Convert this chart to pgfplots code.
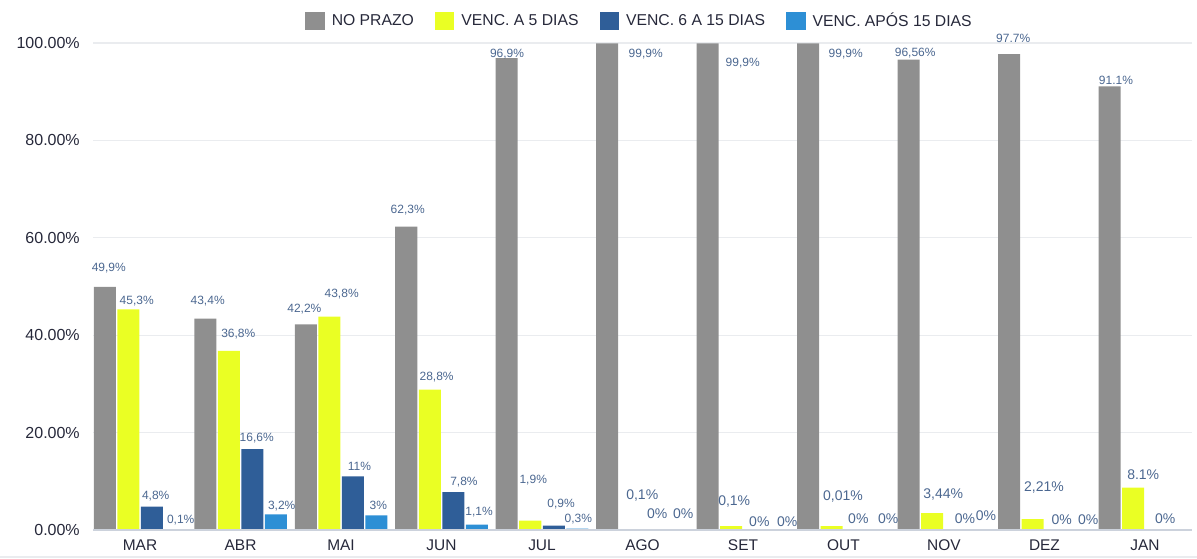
\documentclass[border=0pt]{standalone}
\usepackage{fontspec}
\setmainfont{Liberation Sans}
\usepackage{pgfplots}
\usepackage{pgfplotstable}
\pgfplotsset{compat=1.18}
\definecolor{cgray}{RGB}{143,143,143}
\definecolor{cyellow}{RGB}{234,255,36}
\definecolor{cdark}{RGB}{47,94,152}
\definecolor{clight}{RGB}{45,143,213}
\definecolor{clabel}{RGB}{75,103,144}
\definecolor{ctick}{RGB}{38,40,58}
\definecolor{cgrid}{RGB}{234,236,239}
\definecolor{cbase}{RGB}{204,210,220}
\newcommand\Lg{\fontsize{10.5}{12}\selectfont}

\pgfplotstableread{
x y label dx dy
0 49.9 49,9\% 4 18.7
1 43.4 43,4\% 2.4 17.9
2 42.2 42,2\% -1.4 15.2
3 62.3 62,3\% 1.5 16.6
4 96.9 96,9\% 0.3 4.5
5 99.9 99,9\% 38.5 -11
6 99.9 99,9\% 35 -19.3
7 99.9 99,9\% 37.5 -11
8 96.56 96,56\% 6.5 6.5
9 97.7 97.7\% 4 16.2
10 91.1 91.1\% 6.25 6.3
}\tgray

\pgfplotstableread{
x y label dx dy
0 45.3 45,3\% 8.4 8.4
1 36.8 36,8\% 9.5 16.5
2 43.8 43,8\% 12.4 22.7
3 28.8 28,8\% 6.9 12.4
4 1.9 1,9\% 3 40.7
5 0 \Lg{}0,1\% 11.5 34.3
6 0.8 \Lg{}0,1\% 3 24.4
7 0.8 \Lg{}0,01\% 11.2 29.4
8 3.44 \Lg{}3,44\% 11 19
9 2.21 \Lg{}2,21\% 11.25 31.5
10 8.7 \Lg{}8.1\% 10 13.3
}\tyellow

\pgfplotstableread{
x y label dx dy
0 4.8 4,8\% 3.9 10.6
1 16.6 16,6\% 4.4 11.5
2 11 11\% 6.6 9.7
3 7.8 7,8\% 10.7 9.7
4 0.9 0,9\% 7.3 21.6
5 0 \Lg{}0\% 3 16.7
6 0 \Lg{}0\% 4.6 8.3
7 0 \Lg{}0\% 3.1 11.7
8 0 \Lg{}0\% 9.2 11
9 0 \Lg{}0\% 5.5 10.7
10 0 {} 0 0
}\tdark

\pgfplotstableread{
x y label dx dy
0 0.1 0,1\% 5.4 9.5
1 3.2 3,2\% 5.9 8.7
2 3 3\% 2 10.4
3 1.1 1,1\% 2.3 12.6
4 0.3 0,3\% 1 9.8
5 0 \Lg{}0\% 5.5 16.7
6 0 \Lg{}0\% 9 8.3
7 0 \Lg{}0\% 9.5 11.7
8 0 \Lg{}0\% 6.75 14.3
9 0 \Lg{}0\% 8.5 10
10 0 \Lg{}0\% -15 11
}\tlight

\pgfplotsset{
  sqleg/.style={legend image code/.code={\fill[##1] (0pt,-6.75pt) rectangle (14.6pt,6.75pt);}},
  lbl/.style={
    nodes near coords,
    point meta=explicit symbolic,
    visualization depends on={\thisrow{dx}\as\myDX},
    visualization depends on={\thisrow{dy}\as\myDY},
    nodes near coords style={anchor=center, inner sep=0pt, xshift=\myDX*0.75pt, yshift=\myDY*0.75pt,
      font=\fontsize{9}{10}\selectfont, text=clabel},
  },
}

\begin{document}
\begin{tikzpicture}
\begin{axis}[
  name=ax,
  scale only axis, width=824.25pt, height=365.25pt,
  xmin=-0.468, xmax=10.468, ymin=0, ymax=100,
  ybar=1.125pt, bar width=0.219,
  clip=false,
  axis line style={draw=none},
  major tick length=0pt,
  ymajorgrids, grid style={color=cgrid, line width=0.9pt},
  ytick={0,20,40,60,80,100},
  /pgf/number format/assume math mode=true,
  yticklabel={\pgfmathprintnumber[fixed,fixed zerofill,precision=2]{\tick}\%},
  yticklabel style={inner sep=0pt, xshift=-9.75pt, font=\fontsize{12}{14}\selectfont, text=ctick},
  xtick={0,1,2,3,4,5,6,7,8,9,10},
  xticklabels={MAR,ABR,MAI,JUN,JUL,AGO,SET,OUT,NOV,DEZ,JAN},
  xticklabel style={anchor=north, inner sep=0pt, yshift=-7pt, font=\fontsize{11.6}{14}\selectfont, text=ctick},
  legend columns=4,
  legend style={at={(axis description cs:0.5,1)}, anchor=center, xshift=-3pt, yshift=16.5pt,
    draw=none, fill=none, inner sep=0pt, font=\fontsize{11.8}{14}\selectfont, text=ctick,
    nodes={inner sep=0pt},
    column sep=5.25pt, /tikz/every even column/.append style={column sep=15.75pt}},
]
\addplot[fill=cgray, draw=none, sqleg, lbl] table[x=x, y=y, meta=label] {\tgray};
\addlegendentry{NO PRAZO}
\addplot[fill=cyellow, draw=none, sqleg, lbl] table[x=x, y=y, meta=label] {\tyellow};
\addlegendentry{VENC. A 5 DIAS}
\addplot[fill=cdark, draw=none, sqleg, lbl] table[x=x, y=y, meta=label] {\tdark};
\addlegendentry{VENC. 6 A 15 DIAS}
\addplot[fill=clight, draw=none, sqleg, lbl] table[x=x, y=y, meta=label] {\tlight};
\addlegendentry{VENC. APÓS 15 DIAS}
\draw[cbase, line width=1.2pt] (rel axis cs:0,0) -- (rel axis cs:1,0);
\end{axis}
\draw[cgrid, line width=1.5pt] ([shift={(-69.75pt,-20.25pt)}]ax.south west) -- ([shift={(3.75pt,-20.25pt)}]ax.south east);
\pgfresetboundingbox
\useasboundingbox ([shift={(-69.75pt,-21.75pt)}]ax.south west) rectangle ([shift={(3.75pt,32.25pt)}]ax.north east);
\end{tikzpicture}
\end{document}
